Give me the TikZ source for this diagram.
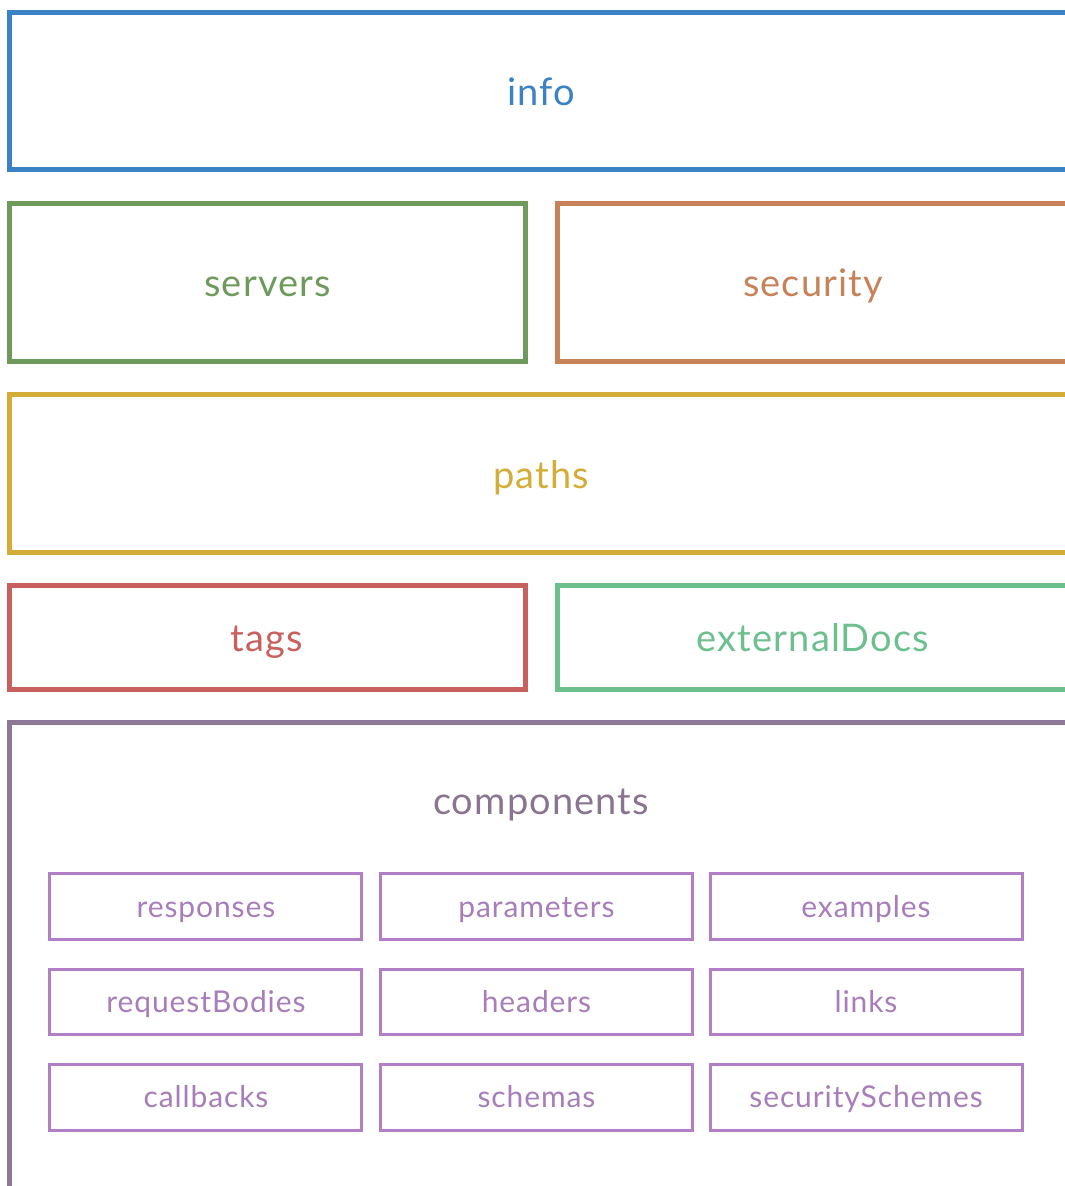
\documentclass[tikz,border=0pt]{standalone}
\usepackage{fontspec}
\setmainfont{Lato}
\newfontfamily\outerfont{Lato}[LetterSpace=3]
\newfontfamily\innerfont{Lato}[LetterSpace=3]
\definecolor{cinfo}{HTML}{3B82C4}
\definecolor{cserv}{HTML}{6E9A5C}
\definecolor{csec}{HTML}{C8825A}
\definecolor{cpath}{HTML}{D4AC38}
\definecolor{ctags}{HTML}{C8605E}
\definecolor{cext}{HTML}{6DBF8E}
\definecolor{ccomp}{HTML}{8E7897}
\definecolor{ccompt}{HTML}{8A7590}
\definecolor{cin}{HTML}{B27FC6}
\definecolor{cint}{HTML}{A77DBA}
\tikzset{
  obox/.style={draw=#1, line width=5pt, inner sep=0pt, outer sep=0pt, rectangle},
  ibox/.style={draw=cin, line width=3pt, inner sep=0pt, outer sep=0pt, rectangle, minimum width=312pt, minimum height=65.5pt},
  btxt/.style={text=#1, anchor=base, inner sep=0pt, font=\outerfont\fontsize{38}{42}\selectfont},
  itxt/.style={text=cint, anchor=base, inner sep=0pt, font=\innerfont\fontsize{30}{34}\selectfont},
}
\begin{document}
\begin{tikzpicture}[x=1pt,y=-1pt]
\useasboundingbox (0,0) rectangle (1065,1186);
\clip (0,0) rectangle (1065,1186);
\fill[white] (0,0) rectangle (1065,1186);
% outer boxes
\node[obox=cinfo, minimum width=1075.5pt, minimum height=157.5pt] (info) at (547.25,90.75) {};
\node[obox=cserv, minimum width=515.5pt, minimum height=157.5pt] (servers) at (267.25,282.25) {};
\node[obox=csec, minimum width=528pt, minimum height=157.5pt] (security) at (821,282.25) {};
\node[obox=cpath, minimum width=1075.5pt, minimum height=158pt] (paths) at (547.25,473.5) {};
\node[obox=ctags, minimum width=515.5pt, minimum height=104pt] (tags) at (267.25,637.5) {};
\node[obox=cext, minimum width=528pt, minimum height=104pt] (extdocs) at (821,637.5) {};
\node[obox=ccomp, minimum width=1075.5pt, minimum height=500pt] (components) at (547.25,972.5) {};
% labels
\node[btxt=cinfo] (infot) at (541,105) {info};
\node[btxt=cserv] (serverst) at (267.5,296) {servers};
\node[btxt=csec] (securityt) at (813,296) {security};
\node[btxt=cpath] (pathst) at (541,488) {paths};
\node[btxt=ctags] (tagst) at (267,651) {tags};
\node[btxt=cext] (extdocst) at (813,651) {externalDocs};
\node[btxt=ccompt] (componentst) at (541,814) {components};
% inner boxes
\foreach \c/\x in {1/205.75,2/536.5,3/866.25}{
  \foreach \r/\y in {1/906.25,2/1001.75,3/1097.25}{
    \node[ibox] (b\c\r) at (\x,\y) {};
  }
}
\node[itxt] (t11) at (206,917) {responses};
\node[itxt] (t12) at (206,1012) {requestBodies};
\node[itxt] (t13) at (206,1107.5) {callbacks};
\node[itxt] (t21) at (536.5,917) {parameters};
\node[itxt] (t22) at (536.5,1012) {headers};
\node[itxt] (t23) at (536.5,1107.5) {schemas};
\node[itxt] (t31) at (866,917) {examples};
\node[itxt] (t32) at (866,1012) {links};
\node[itxt] (t33) at (866,1107.5) {securitySchemes};
\end{tikzpicture}
\end{document}
